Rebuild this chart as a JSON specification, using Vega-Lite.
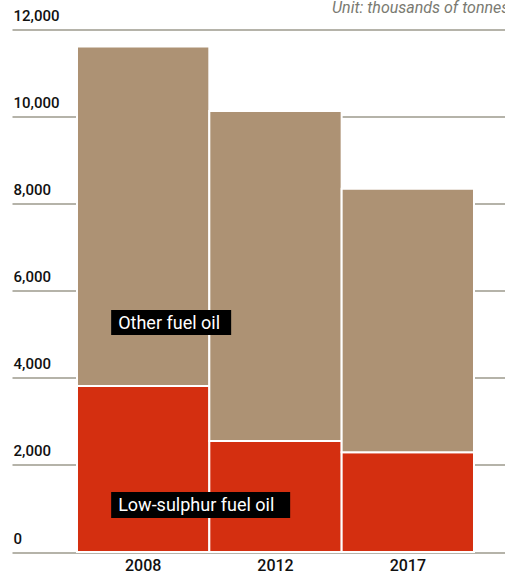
{
  "$schema": "https://vega.github.io/schema/vega-lite/v6.json",
  "autosize": {"type": "none"},
  "width": 493,
  "height": 522.5,
  "padding": {"left": 12, "top": 29.5, "right": 0, "bottom": 22.5},
  "background": "white",
  "title": {
    "text": "Unit: thousands of tonnes",
    "anchor": "start",
    "frame": "group",
    "orient": "top",
    "dx": 320,
    "offset": -20,
    "baseline": "alphabetic",
    "font": "Roboto",
    "fontStyle": "italic",
    "fontWeight": "normal",
    "fontSize": 16,
    "color": "#7a7a72"
  },
  "config": {
    "view": {"stroke": null},
    "font": "Roboto"
  },
  "data": {
    "values": [
      {"year": "2008", "type": "Low-sulphur fuel oil", "order": 1, "value": 3810},
      {"year": "2008", "type": "Other fuel oil", "order": 2, "value": 7800},
      {"year": "2012", "type": "Low-sulphur fuel oil", "order": 1, "value": 2550},
      {"year": "2012", "type": "Other fuel oil", "order": 2, "value": 7580},
      {"year": "2017", "type": "Low-sulphur fuel oil", "order": 1, "value": 2290},
      {"year": "2017", "type": "Other fuel oil", "order": 2, "value": 6050}
    ]
  },
  "encoding": {
    "x": {
      "field": "year",
      "type": "nominal",
      "scale": {"paddingInner": 0, "paddingOuter": 0.3627, "align": 0.677},
      "axis": {
        "title": null,
        "ticks": false,
        "domain": false,
        "labelAngle": 0,
        "labelPadding": 5,
        "labelFontSize": 16,
        "labelFontWeight": 500,
        "labelColor": "#111111",
        "labelFont": "Roboto"
      }
    }
  },
  "layer": [
    {
      "mark": {"type": "bar", "stroke": "white", "strokeWidth": 2},
      "encoding": {
        "y": {
          "field": "value",
          "type": "quantitative",
          "stack": "zero",
          "scale": {"domain": [0, 12000], "nice": false},
          "axis": {
            "title": null,
            "values": [0, 2000, 4000, 6000, 8000, 10000, 12000],
            "format": ",d",
            "domain": false,
            "ticks": false,
            "grid": true,
            "gridColor": "#9c9a8c",
            "gridWidth": 1.5,
            "labelAlign": "left",
            "labelBaseline": "bottom",
            "labelPadding": -1,
            "labelOffset": -6,
            "labelFontSize": 15,
            "labelFontWeight": 500,
            "labelColor": "#111111",
            "labelFont": "Roboto"
          }
        },
        "color": {
          "field": "type",
          "type": "nominal",
          "scale": {"domain": ["Low-sulphur fuel oil", "Other fuel oil"], "range": ["#d42f10", "#ad9274"]},
          "legend": null
        },
        "order": {"field": "order", "type": "quantitative"}
      }
    },
    {
      "data": {"values": [{"year": "2008", "label": "Other fuel oil", "pos": 5270}]},
      "mark": {
        "type": "point",
        "shape": "M0,-0.2083H2V0.2083H0Z",
        "size": 14400,
        "filled": true,
        "fill": "black",
        "stroke": null,
        "opacity": 1,
        "xOffset": -32
      },
      "encoding": {
        "y": {"field": "pos", "type": "quantitative"}
      }
    },
    {
      "data": {"values": [{"year": "2008", "label": "Low-sulphur fuel oil", "pos": 1080}]},
      "mark": {
        "type": "point",
        "shape": "M0,-0.1453H2V0.1453H0Z",
        "size": 32041,
        "filled": true,
        "fill": "black",
        "stroke": null,
        "opacity": 1,
        "xOffset": -32
      },
      "encoding": {
        "y": {"field": "pos", "type": "quantitative"}
      }
    },
    {
      "data": {"values": [
        {"year": "2008", "label": "Other fuel oil", "pos": 5270},
        {"year": "2008", "label": "Low-sulphur fuel oil", "pos": 1080}
      ]},
      "mark": {
        "type": "text",
        "align": "left",
        "baseline": "middle",
        "dx": -25,
        "dy": 1,
        "font": "Roboto",
        "fontSize": 18,
        "color": "white"
      },
      "encoding": {
        "y": {"field": "pos", "type": "quantitative"},
        "text": {"field": "label"}
      }
    }
  ]
}
